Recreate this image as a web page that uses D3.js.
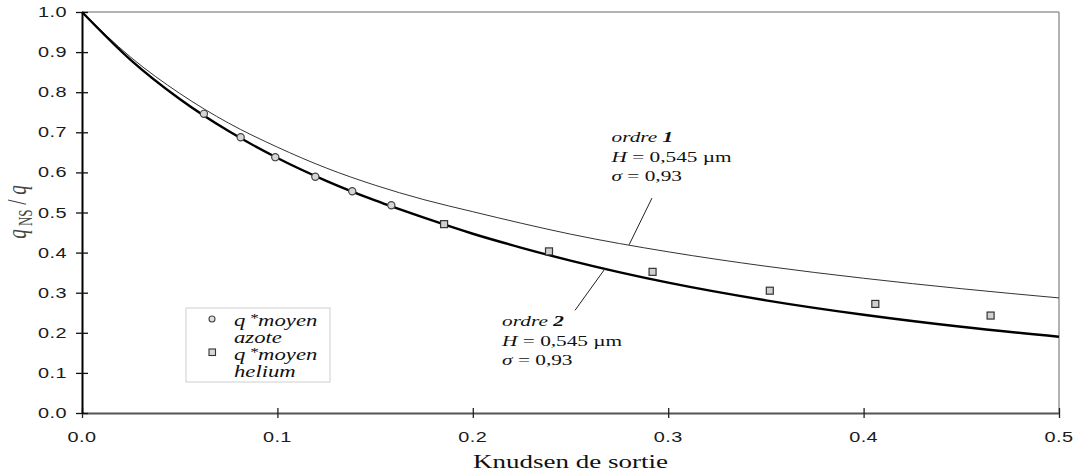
<!DOCTYPE html>
<html>
<head>
<meta charset="utf-8">
<script src="https://cdn.jsdelivr.net/npm/d3@7"></script>
<style>
  html, body { margin: 0; padding: 0; background: #fff; }
  svg { display: block; }
</style>
</head>
<body>
<svg id="chart" width="1074" height="473"></svg>
<script>
// Outlet Knudsen number grid for the two model curves
const knGrid = [0, 0.025, 0.05, 0.075, 0.1, 0.125, 0.15, 0.175, 0.2, 0.225, 0.25, 0.3, 0.35, 0.4, 0.45, 0.5];
// First-order slip model, H = 0.545 µm, sigma = 0.93
const ordre1 = [1.0, 0.887, 0.797, 0.723, 0.663, 0.611, 0.568, 0.532, 0.502, 0.473, 0.446, 0.402, 0.366, 0.336, 0.310, 0.287];
// Second-order slip model, H = 0.545 µm, sigma = 0.93
const ordre2 = [1.0, 0.880, 0.783, 0.703, 0.636, 0.579, 0.530, 0.487, 0.447, 0.412, 0.380, 0.325, 0.281, 0.245, 0.215, 0.190];

// Measured mean flow rates
const azoteKn = [0.0624, 0.0812, 0.0989, 0.1194, 0.1383, 0.1583];
const azoteQ  = [0.746, 0.6875, 0.638, 0.589, 0.553, 0.518];
const heliumKn = [0.1853, 0.239, 0.292, 0.352, 0.406, 0.465];
const heliumQ  = [0.471, 0.403, 0.352, 0.305, 0.272, 0.243];

// Tick values and labels
const xTicks = [0, 0.1, 0.2, 0.3, 0.4, 0.5];
const xTickLabels = ["0.0", "0.1", "0.2", "0.3", "0.4", "0.5"];
const yTicks = [0, 0.1, 0.2, 0.3, 0.4, 0.5, 0.6, 0.7, 0.8, 0.9, 1.0];
const yTickLabels = ["0.0", "0.1", "0.2", "0.3", "0.4", "0.5", "0.6", "0.7", "0.8", "0.9", "1.0"];

const svg = d3.select("#chart");
const SX = 1.42; // horizontal stretch applied to all lettering

const x = d3.scaleLinear().domain([0, 0.5]).range([82, 1059]);
const y = d3.scaleLinear().domain([0, 1]).range([413, 12]);

const serif = "'Liberation Serif', 'Times New Roman', serif";
const sans = "'Liberation Sans', Arial, sans-serif";

function label(px, py, anchor, font, size, opts = {}) {
  const t = svg.append("text")
    .attr("transform", `translate(${px},${py}) scale(${SX},1)` + (opts.rotate ? ` rotate(${opts.rotate})` : ""))
    .attr("text-anchor", anchor)
    .attr("font-family", font)
    .attr("font-size", size)
    .attr("fill", opts.fill || "#111");
  if (opts.italic) t.attr("font-style", "italic");
  return t;
}

// Frame: top and right borders
svg.append("line").attr("x1", x(0)).attr("x2", x(0.5)).attr("y1", y(1)).attr("y2", y(1))
  .attr("stroke", "#9a9a9a").attr("stroke-width", 1.5);
svg.append("line").attr("x1", x(0.5)).attr("x2", x(0.5)).attr("y1", y(1)).attr("y2", y(0))
  .attr("stroke", "#9a9a9a").attr("stroke-width", 1.5);

// X axis
const xAxis = svg.append("g").attr("transform", `translate(0,${y(0)})`)
  .call(d3.axisBottom(x).tickValues(xTicks).tickSize(5).tickSizeOuter(0).tickFormat(""));
xAxis.select(".domain").attr("stroke", "#555").attr("stroke-width", 2);
xAxis.selectAll(".tick line").attr("y1", -5).attr("stroke", "#222").attr("stroke-width", 1.3);

// Y axis
const yAxis = svg.append("g").attr("transform", `translate(${x(0)},0)`)
  .call(d3.axisLeft(y).tickValues(yTicks).tickSize(6).tickSizeOuter(0).tickFormat(""));
yAxis.select(".domain").attr("stroke", "#000").attr("stroke-width", 2);
yAxis.selectAll(".tick line").attr("x1", 6).attr("stroke", "#111").attr("stroke-width", 1.3);

// Tick labels
xTicks.forEach((v, i) => {
  label(x(v), 442, "middle", sans, 14, { fill: "#1a1a1a" }).attr("letter-spacing", 0.3).text(xTickLabels[i]);
});
yTicks.forEach((v, i) => {
  label(67, y(v) + 5, "end", sans, 14, { fill: "#1a1a1a" }).attr("letter-spacing", 0.3).text(yTickLabels[i]);
});

// Axis titles
label((x(0) + x(0.5)) / 2, 468, "middle", serif, 19).text("Knudsen de sortie");
const yt = label(26, 212, "middle", serif, 19, { rotate: -90, fill: "#444" });
yt.append("tspan").attr("font-style", "italic").text("q");
yt.append("tspan").attr("font-size", 13).attr("dy", 4).text(" NS");
yt.append("tspan").attr("dy", -4).text(" / ");
yt.append("tspan").attr("font-style", "italic").text("q");

// Model curves
const line = d3.line().x(d => x(d[0])).y(d => y(d[1])).curve(d3.curveMonotoneX);
svg.append("path").datum(knGrid.map((k, i) => [k, ordre1[i]]))
  .attr("d", line).attr("fill", "none").attr("stroke", "#333").attr("stroke-width", 1);
svg.append("path").datum(knGrid.map((k, i) => [k, ordre2[i]]))
  .attr("d", line).attr("fill", "none").attr("stroke", "#000").attr("stroke-width", 2.4);

// Measurements: nitrogen (circles) and helium (squares)
svg.append("g").selectAll("circle").data(azoteKn.map((k, i) => [k, azoteQ[i]])).join("circle")
  .attr("cx", d => x(d[0])).attr("cy", d => y(d[1])).attr("r", 3.6)
  .attr("fill", "#d6d6d6").attr("stroke", "#444").attr("stroke-width", 1.2);
const sq = 7;
svg.append("g").selectAll("rect").data(heliumKn.map((k, i) => [k, heliumQ[i]])).join("rect")
  .attr("x", d => x(d[0]) - sq / 2).attr("y", d => y(d[1]) - sq / 2)
  .attr("width", sq).attr("height", sq)
  .attr("fill", "#d0d0d0").attr("stroke", "#333").attr("stroke-width", 1.2);

// Curve annotations with leader lines (positions in data units)
const lead1 = [[0.280, 0.4195], [0.2917, 0.536]];
const lead2 = [[0.2677, 0.360], [0.2523, 0.256]];
[lead1, lead2].forEach(l => {
  svg.append("line").attr("x1", x(l[0][0])).attr("y1", y(l[0][1]))
    .attr("x2", x(l[1][0])).attr("y2", y(l[1][1]))
    .attr("stroke", "#222").attr("stroke-width", 1);
});

function annotation(kn, q, order) {
  const px = x(kn), py = y(q);
  const a = label(px, py, "start", serif, 15);
  a.append("tspan").attr("font-style", "italic").text("ordre ");
  a.append("tspan").attr("font-style", "italic").attr("font-weight", "bold").text(order);
  const b = label(px, py + 20, "start", serif, 15);
  b.append("tspan").attr("font-style", "italic").text("H");
  b.append("tspan").text(" = 0,545 µm");
  const c = label(px, py + 39, "start", serif, 15);
  c.append("tspan").attr("font-style", "italic").text("σ");
  c.append("tspan").text(" = 0,93");
}
annotation(0.2710, 0.6756, "1");
annotation(0.2150, 0.2169, "2");

// Legend
const lg = svg.append("g");
lg.append("rect").attr("x", 186).attr("y", 308).attr("width", 144).attr("height", 74)
  .attr("fill", "#fff").attr("stroke", "#cfcfcf").attr("stroke-width", 1);
lg.append("circle").attr("cx", 212).attr("cy", 319).attr("r", 3)
  .attr("fill", "#e0e0e0").attr("stroke", "#444").attr("stroke-width", 1.1);
lg.append("rect").attr("x", 209).attr("y", 349).attr("width", 6.5).attr("height", 6.5)
  .attr("fill", "#d8d8d8").attr("stroke", "#333").attr("stroke-width", 1.1);

function legendItem(py, gas) {
  const t = label(234, py, "start", serif, 16, { italic: true });
  t.append("tspan").text("q");
  t.append("tspan").attr("font-size", 12).attr("dy", -4).text(" *");
  t.append("tspan").attr("dy", 4).text("moyen");
  label(234, py + 17, "start", serif, 16, { italic: true }).text(gas);
}
legendItem(326, "azote");
legendItem(360, "helium");
</script>
</body>
</html>
